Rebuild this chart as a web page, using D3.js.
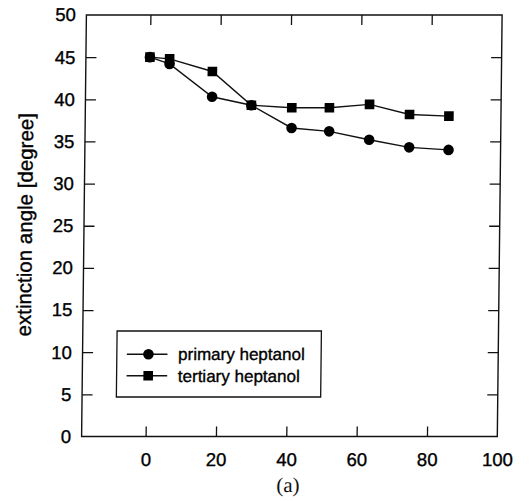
<!DOCTYPE html>
<html><head><meta charset="utf-8">
<script src="https://cdn.jsdelivr.net/npm/d3@7"></script>
<style>
html,body{margin:0;padding:0;background:#fff;}
svg{display:block;}
</style></head>
<body>
<svg id="chart" width="529" height="501"></svg>
<script>
// ---- data ----
const xValues = [0, 5.6, 17.8, 29, 40.5, 51.2, 62.6, 74, 85.2];
const primaryHeptanol = [45.0, 44.2, 40.3, 39.3, 36.6, 36.2, 35.2, 34.3, 34.0];
const tertiaryHeptanol = [45.0, 44.8, 43.3, 39.3, 39.0, 39.0, 39.4, 38.2, 38.0];
const seriesNames = ["primary heptanol", "tertiary heptanol"];
const xTicks = [0, 20, 40, 60, 80, 100];
const yTicks = [0, 5, 10, 15, 20, 25, 30, 35, 40, 45, 50];
const yTitle = "extinction angle [degree]";
const caption = "(a)";

// ---- layout ----
const L = 84, R = 499.7, T = 15, B = 436.5;
const svg = d3.select("#chart");
const k = -0.0114, cy = 226;
const g = svg.append("g").attr("transform", `matrix(1,0,${k},1,${-k*cy},0)`);

const x = d3.scaleLinear().domain([-18.2, 100]).range([L, R]);
const y = d3.scaleLinear().domain([0, 50]).range([B, T]);

const font = "'Liberation Sans', Arial, Helvetica, sans-serif";
const heavy = s => s.attr("fill", "#000").attr("stroke", "#000").attr("stroke-width", 0.35);

// frame
g.append("rect").attr("x", L).attr("y", T).attr("width", R - L).attr("height", B - T)
  .attr("fill", "none").attr("stroke", "#111").attr("stroke-width", 1.4);

// axes
const ax = (sel) => { sel.select(".domain").remove(); sel.selectAll("line").attr("stroke", "#111").attr("stroke-width", 1.3); };
g.append("g").attr("transform", `translate(0,${B})`)
  .call(d3.axisBottom(x).tickValues(xTicks).tickSize(-10).tickPadding(16).tickFormat(d3.format("d")))
  .call(ax)
  .call(s => s.selectAll("text").attr("font-family", font).attr("font-size", 18.5).call(heavy))
  .call(s => s.selectAll(".tick").filter(d => d === 100).select("line").remove());
g.append("g").attr("transform", `translate(0,${T})`)
  .call(d3.axisTop(x).tickValues(xTicks.filter(d => d < 100)).tickSize(-10).tickFormat(""))
  .call(ax);
g.append("g").attr("transform", `translate(${L},0)`)
  .call(d3.axisLeft(y).tickValues(yTicks).tickSize(-10.5).tickPadding(10.6).tickFormat(d3.format("d")))
  .call(ax)
  .call(s => s.selectAll("text").attr("font-family", font).attr("font-size", 18.5).call(heavy))
  .call(s => s.selectAll(".tick").filter(d => d === 0 || d === 50).select("line").remove());
g.append("g").attr("transform", `translate(${R},0)`)
  .call(d3.axisRight(y).tickValues(yTicks.filter(d => d > 0 && d < 50)).tickSize(-10.5).tickFormat(""))
  .call(ax);

// y title
g.append("text").attr("transform", `translate(32,${(T + B) / 2 - 1}) rotate(-90)`)
  .attr("text-anchor", "middle").attr("font-family", font).attr("font-size", 20.5).call(heavy)
  .text(yTitle);

// caption
g.append("text").attr("x", 291).attr("y", 492).attr("text-anchor", "middle")
  .attr("font-family", "'Liberation Serif', 'Times New Roman', serif").attr("font-size", 21).attr("fill", "#111")
  .text(caption);

// series
const line = d3.line().x(d => x(d[0])).y(d => y(d[1]));
const pData = xValues.map((v, i) => [v, primaryHeptanol[i]]);
const tData = xValues.map((v, i) => [v, tertiaryHeptanol[i]]);
const plot = g.append("g");
plot.append("path").datum(tData).attr("d", line).attr("fill", "none").attr("stroke", "#111").attr("stroke-width", 1.4);
plot.append("path").datum(pData).attr("d", line).attr("fill", "none").attr("stroke", "#111").attr("stroke-width", 1.4);
const sq = 9.6, cr = 5.3;
plot.selectAll("rect.sq").data(tData).join("rect").attr("class", "sq")
  .attr("x", d => x(d[0]) - sq / 2).attr("y", d => y(d[1]) - sq / 2).attr("width", sq).attr("height", sq).attr("fill", "#000");
plot.selectAll("circle.ci").data(pData).join("circle").attr("class", "ci")
  .attr("cx", d => x(d[0])).attr("cy", d => y(d[1])).attr("r", cr).attr("fill", "#000");

// legend
const lg = g.append("g");
lg.append("rect").attr("x", 118.3).attr("y", 331).attr("width", 204.3).attr("height", 66)
  .attr("fill", "#fff").attr("stroke", "#111").attr("stroke-width", 1.3);
const rows = [354.3, 375.7];
seriesNames.forEach((name, i) => {
  const yy = rows[i];
  lg.append("line").attr("x1", 128.3).attr("x2", 168.9).attr("y1", yy).attr("y2", yy).attr("stroke", "#111").attr("stroke-width", 1.4);
  if (i === 0) lg.append("circle").attr("cx", 149.9).attr("cy", yy).attr("r", cr).attr("fill", "#000");
  else lg.append("rect").attr("x", 149.9 - sq / 2).attr("y", yy - sq / 2).attr("width", sq).attr("height", sq).attr("fill", "#000");
  lg.append("text").attr("x", 179.6).attr("y", yy).attr("dy", "0.35em").attr("font-family", font).attr("font-size", 17).call(heavy).text(name);
});
</script>
</body></html>
